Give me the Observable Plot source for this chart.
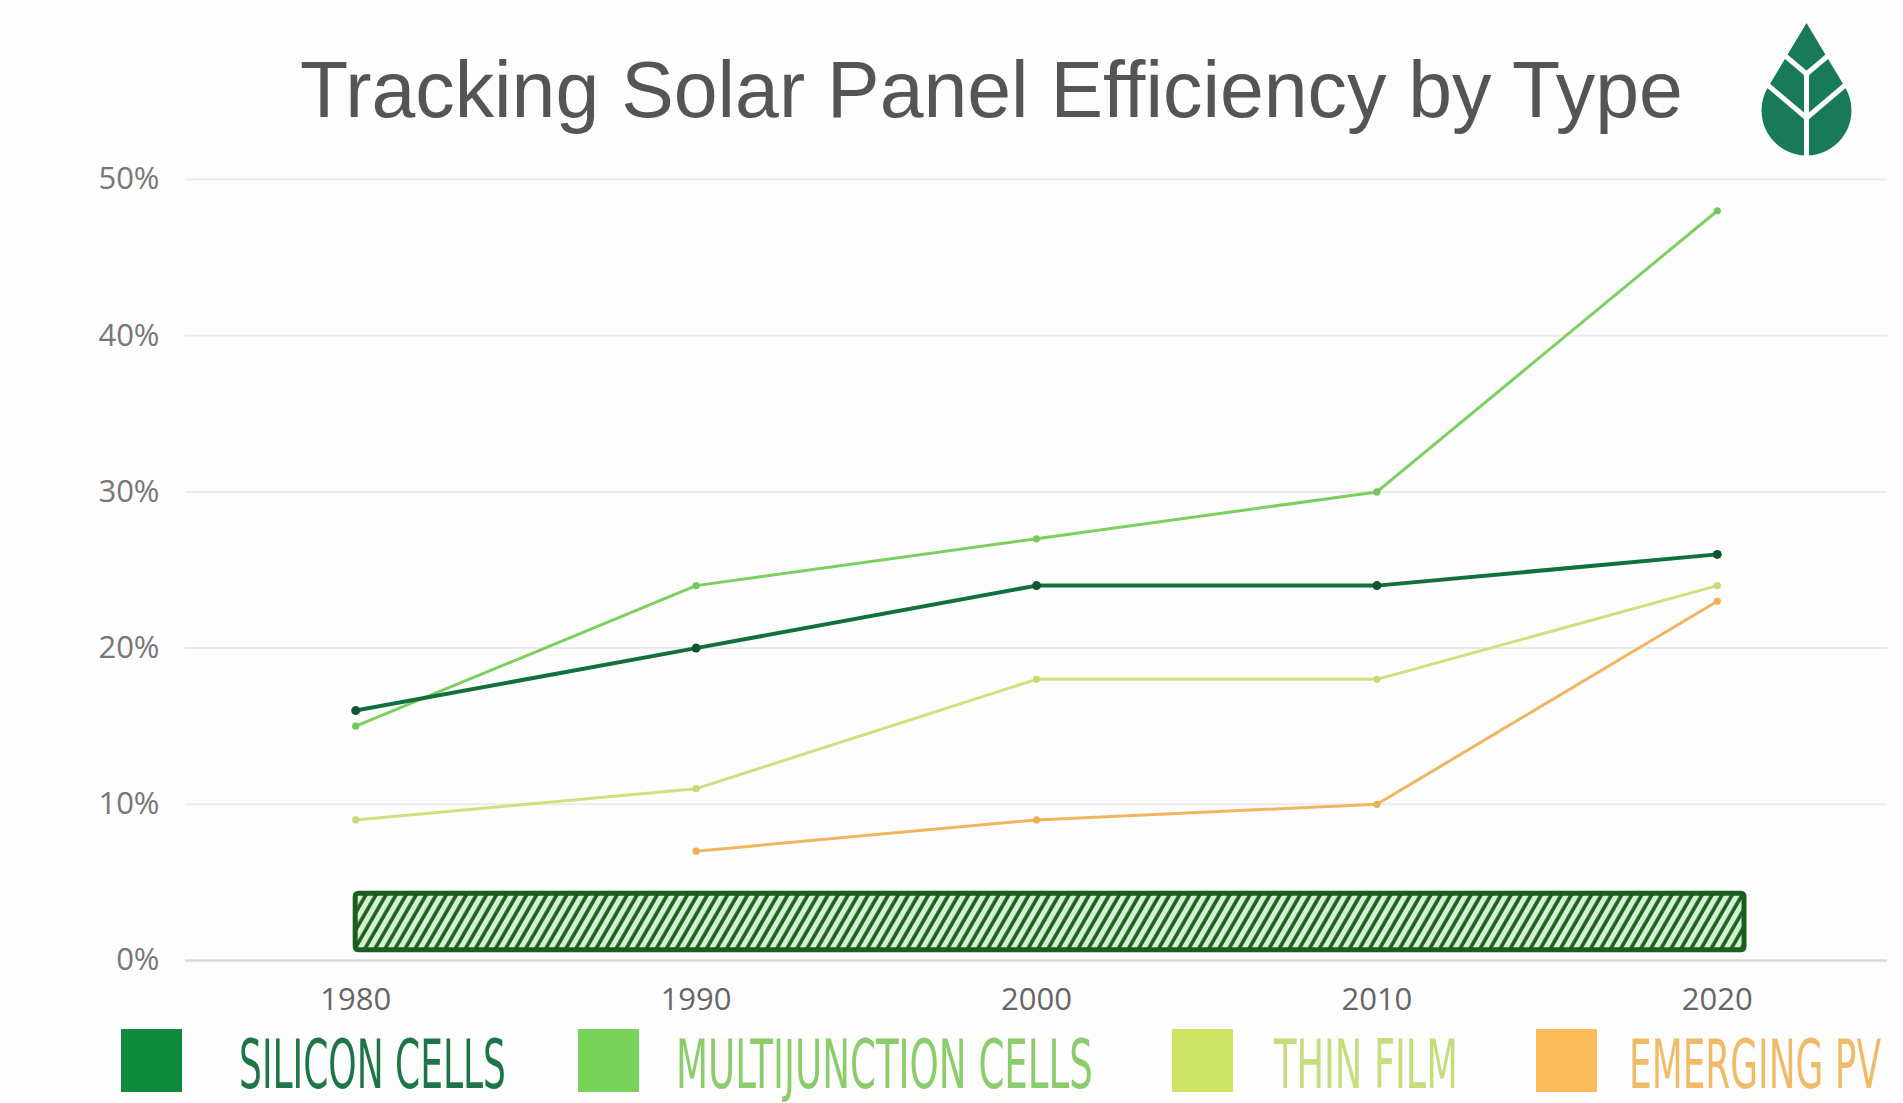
<!DOCTYPE html>
<html>
<head>
<meta charset="utf-8">
<script src="https://cdn.jsdelivr.net/npm/d3@7"></script>
<script src="https://cdn.jsdelivr.net/npm/@observablehq/plot@0.6"></script>
<style>
  html, body { margin: 0; padding: 0; background: #fdfdfd; overflow: hidden; }
  #page { position: relative; width: 1903px; height: 1103px; }
  #header, #legend { display: block; overflow: visible; }
  #header { position: relative; z-index: 2; }
</style>
</head>
<body>
<svg width="0" height="0" style="position:absolute">
  <defs>
    <pattern id="hatch" patternUnits="userSpaceOnUse" width="8.7" height="8.7" patternTransform="rotate(30)">
      <rect width="8.7" height="8.7" fill="#d4f1d2"></rect>
      <line x1="2" y1="0" x2="2" y2="8.7" stroke="#1b5e20" stroke-width="3.6"></line>
    </pattern>
  </defs>
</svg>
<div id="page">
  <svg id="header" width="1903" height="150"></svg>
  <div id="chart"></div>
  <svg id="legend" width="1903" height="83"></svg>
</div>
<script>
// ---- data ----
const title = "Tracking Solar Panel Efficiency by Type";
const years = [1980, 1990, 2000, 2010, 2020];
const seriesNames = ["Silicon Cells", "Multijunction Cells", "Thin Film", "Emerging PV"];
const legendLabels = ["SILICON CELLS", "MULTIJUNCTION CELLS", "THIN FILM", "EMERGING PV"];
const silicon = [16, 20, 24, 24, 26];
const multijunction = [15, 24, 27, 30, 48];
const thinFilm = [9, 11, 18, 18, 24];
const emergingPV = [null, 7, 9, 10, 23];
const yTicks = [0, 10, 20, 30, 40, 50];
const xTicks = [1980, 1990, 2000, 2010, 2020];
const maskBand = [{x1: 1980, x2: 2020.8, y1: 0.65, y2: 4.28}];

// ---- styles ----
const lineColors = ["#12703f", "#7dcf60", "#cbe27d", "#f1b560"];
const dotColors  = ["#0c5630", "#74c758", "#c3dc72", "#eeae55"];
const lineWidths = [4, 3, 3, 3];
const swatchColors = ["#0d8a3c", "#77d35a", "#cde467", "#fbbb5b"];
const labelColors  = ["#1e7548", "#8bcd6b", "#c5dd7a", "#f0bb68"];

const allValues = [silicon, multijunction, thinFilm, emergingPV];
const table = [];
allValues.forEach((vals, si) => {
  vals.forEach((v, i) => {
    if (v != null) table.push({series: seriesNames[si], year: years[i], value: v});
  });
});

// ---- header: title + logo ----
const ns = "http://www.w3.org/2000/svg";
const header = document.getElementById("header");
const t = document.createElementNS(ns, "text");
t.setAttribute("x", 300);
t.setAttribute("y", 117);
t.setAttribute("font-family", "Liberation Sans, Arial, sans-serif");
t.setAttribute("font-size", 78);
t.setAttribute("fill", "#555555");
t.textContent = title;
header.appendChild(t);
const titleNatural = t.getComputedTextLength() || 1383;
t.setAttribute("font-size", 78 * 1383 / titleNatural);

// logo (leaf)
const g = document.createElementNS(ns, "g");
g.innerHTML = `
  <path d="M1806.5,23 L1845.5,88 A45,45 0 1 1 1767.5,88 Z" fill="#187a59"></path>
  <path d="M1806.5,160 L1806.5,73" stroke="#fdfdfd" stroke-width="5" fill="none"></path>
  <path d="M1750,26 L1806.5,74 L1863,26" stroke="#fdfdfd" stroke-width="5" fill="none"></path>
  <path d="M1750,70 L1806.5,118 L1863,70" stroke="#fdfdfd" stroke-width="5" fill="none"></path>
`;
header.appendChild(g);

// ---- chart ----
const marks = [
  Plot.ruleY(yTicks.filter(d => d !== 0), {stroke: "#ebebeb", strokeWidth: 2}),
  Plot.ruleY([0], {stroke: "#d9d9d9", strokeWidth: 2.5}),
  Plot.axisY({ticks: yTicks, tickSize: 0, tickPadding: 26, tickFormat: d => d + "%", fontSize: 31, fill: "#777", label: null}),
  Plot.axisX({ticks: xTicks, tickSize: 0, tickPadding: 27, tickFormat: d => String(d), fontSize: 31, fill: "#666", label: null}),
];
[3, 2, 1, 0].forEach(si => {
  const data = table.filter(d => d.series === seriesNames[si]);
  marks.push(Plot.line(data, {x: "year", y: "value", stroke: lineColors[si], strokeWidth: lineWidths[si]}));
  marks.push(Plot.dot(data, {x: "year", y: "value", fill: dotColors[si], r: si === 0 ? 4.5 : 3.6}));
});
marks.push(Plot.rect(maskBand, {x1: "x1", x2: "x2", y1: "y1", y2: "y2", fill: "url(#hatch)", stroke: "#1b5e20", strokeWidth: 5, rx: 3}));

const chart = Plot.plot({
  width: 1903,
  height: 870,
  marginTop: 29,
  marginBottom: 60,
  marginLeft: 185,
  marginRight: 16,
  x: {domain: [1975, 2025], axis: null},
  y: {domain: [0, 50], axis: null},
  style: {fontFamily: "Open Sans, sans-serif", background: "transparent", overflow: "visible"},
  marks
});
document.getElementById("chart").appendChild(chart);

// ---- legend ----
const legend = document.getElementById("legend");
const swatchX = [121, 578, 1172, 1536];
const labelX = [239, 676, 1274, 1629];
const labelW = [267, 417, 184, 252];
const baseSize = 68;
legendLabels.forEach((lab, i) => {
  const r = document.createElementNS(ns, "rect");
  r.setAttribute("x", swatchX[i]);
  r.setAttribute("y", 9);
  r.setAttribute("width", 61);
  r.setAttribute("height", 63);
  r.setAttribute("fill", swatchColors[i]);
  legend.appendChild(r);
  const tx = document.createElementNS(ns, "text");
  tx.setAttribute("x", 0);
  tx.setAttribute("y", 0);
  tx.setAttribute("font-family", "Liberation Sans Narrow, DejaVu Sans Condensed, sans-serif");
  tx.setAttribute("font-size", baseSize);
  tx.setAttribute("fill", labelColors[i]);
  tx.textContent = lab;
  legend.appendChild(tx);
  // condense: shrink the font so the natural width fits, then stretch vertically back
  const natural = tx.getComputedTextLength() || labelW[i];
  const size = baseSize * labelW[i] / natural;
  tx.setAttribute("font-size", size);
  tx.setAttribute("transform", `translate(${labelX[i]},68) scale(1,${baseSize / size})`);
});
</script>
</body>
</html>
